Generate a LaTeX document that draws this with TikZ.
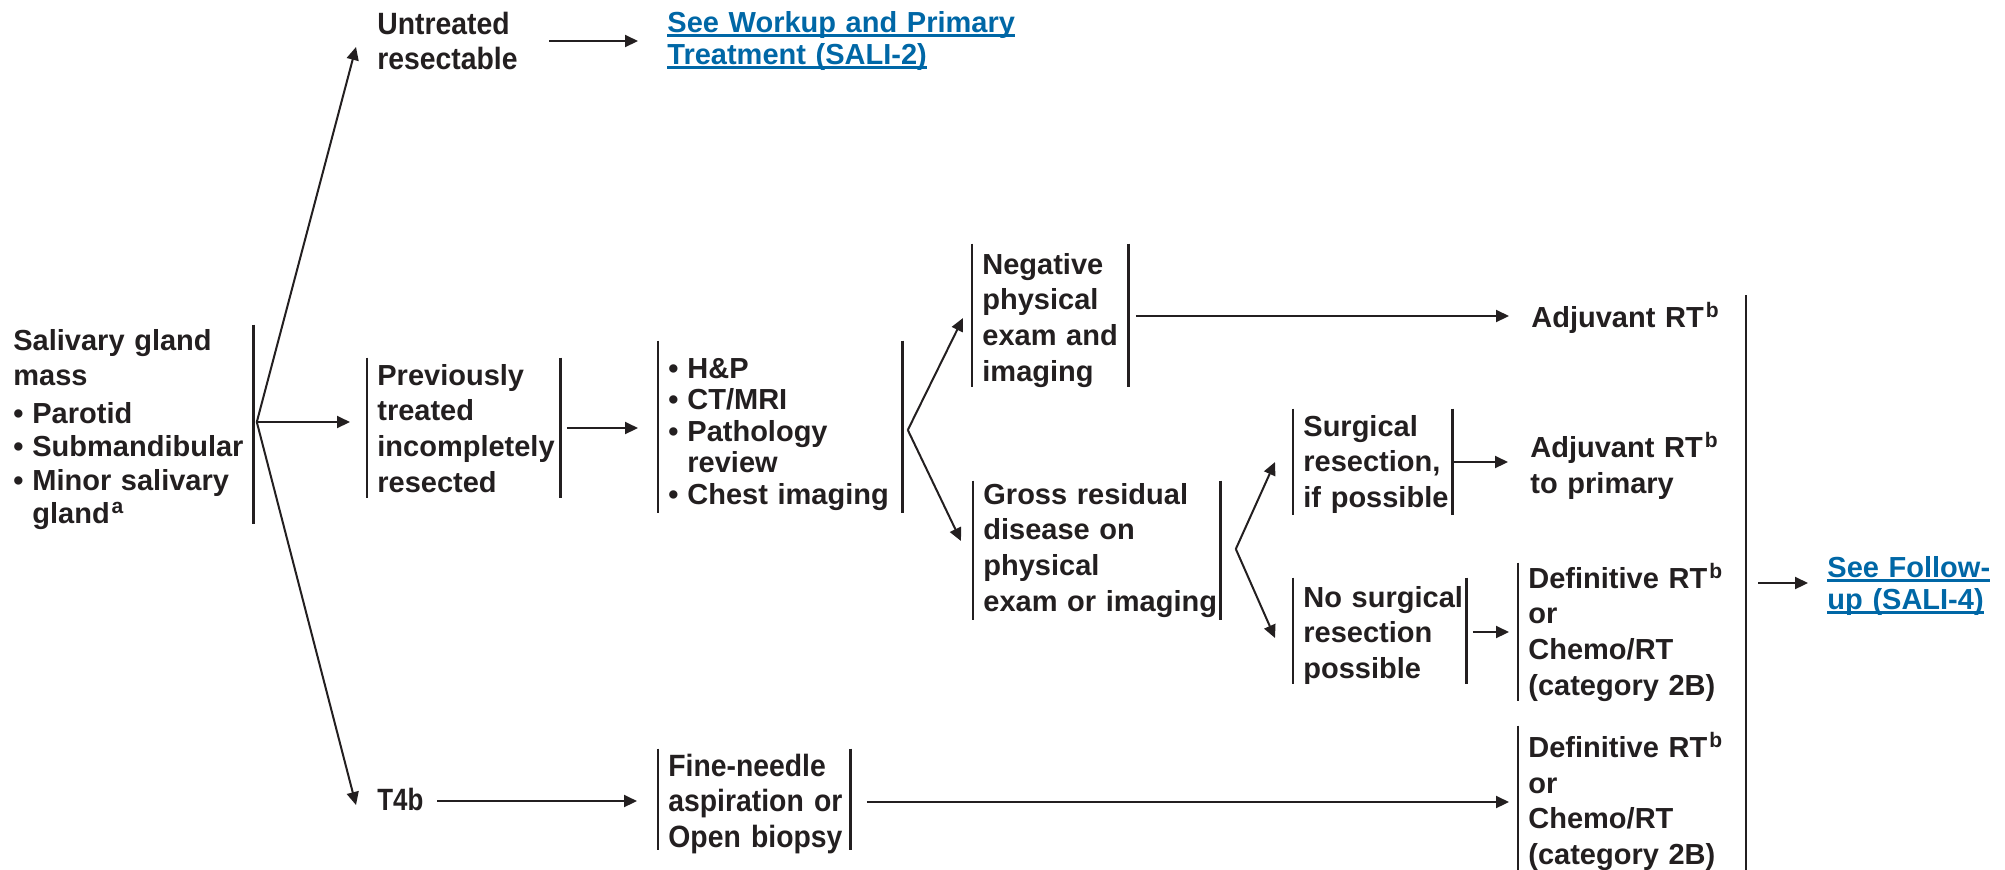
\documentclass[tikz,border=0pt]{standalone}
\usepackage{fontspec}
\setmainfont{Liberation Sans}
\newfontfamily\narrowfont{Liberation Sans}[FakeStretch=0.92]
\newfontfamily\tightfont{Liberation Sans}[FakeStretch=0.84]
\usetikzlibrary{arrows.meta,calc}

\definecolor{ink}{RGB}{35,31,32}
\definecolor{linkblue}{RGB}{0,103,166}

% underlined cross-reference text
\newsavebox{\lnkbox}
\newcommand{\lnk}[1]{\leavevmode\sbox{\lnkbox}{#1}\rlap{\rule[-2.4pt]{\wd\lnkbox}{1.3pt}}\usebox{\lnkbox}}

\newcommand{\bul}{\makebox[9.5pt][l]{•}}
\newcommand{\fn}[1]{\kern1pt\raisebox{4.8pt}{\fontsize{10.5pt}{10.5pt}\selectfont #1}}

\tikzset{
  ink text/.style={text=ink, inner sep=0pt, align=left},
  body/.style={ink text, font=\fontsize{14.5pt}{17.85pt}\selectfont\bfseries},
  narrow/.style={ink text, font=\narrowfont\fontsize{15.4pt}{17.85pt}\selectfont\bfseries},
  link/.style={inner sep=0pt, align=left, text=linkblue,
    font=\fontsize{14.5pt}{16pt}\selectfont\bfseries},
  barline/.style={draw=ink, line width=1.35pt},
  lbar/.style={append after command={([xshift=-5pt]\tikzlastnode.north west)
    edge[barline] ([xshift=-5pt]\tikzlastnode.south west)}},
  rbar/.style={append after command={(\tikzlastnode.north east)
    edge[barline] (\tikzlastnode.south east)}},
  % bracket box: first baseline at the node position, bars span above/below
  boxed/.style 2 args={anchor=base west, text height=#1, text depth=#2},
  arr/.style={draw=ink, line width=1pt, -{Triangle[length=6.5pt,width=6pt]}},
}

\begin{document}
\begin{tikzpicture}[x=0.5pt,y=-0.5pt]
\useasboundingbox (0,0) rectangle (2005,869);

% ---- starting point
\node[body, rbar, boxed={12.5pt}{87pt}, text width=120pt,
      font=\fontsize{14.5pt}{16.6pt}\selectfont\bfseries] (mass) at (13,350)
  {Salivary gland\\[1.25pt] mass\\[2.4pt] \bul Parotid\\ \bul Submandibular\\
   \bul Minor salivary\\ \hspace*{9.5pt}gland\fn{a}};

% ---- top branch
\node[narrow, anchor=base west, text width=80pt] (untr) at (377,34) {Untreated\\resectable};
\node[link, anchor=base west, text width=200pt] (linkA) at (667,32)
  {\lnk{See Workup and Primary}\\\lnk{Treatment (SALI-2)}};

% ---- middle branch
\node[body, lbar, rbar, boxed={13.5pt}{56.5pt}, text width=91.5pt] (prev) at (377,385)
  {Previously\\treated\\incompletely\\resected};
\node[body, lbar, rbar, boxed={18.5pt}{67.5pt}, text width=117pt,
      font=\fontsize{14.5pt}{15.75pt}\selectfont\bfseries] (work) at (668,378)
  {\bul H\&P\\ \bul CT/MRI\\ \bul Pathology\\ \hspace*{9.5pt}review\\ \bul Chest imaging};
\node[body, lbar, rbar, boxed={15pt}{56.5pt}, text width=73pt] (neg) at (982,274)
  {Negative\\physical\\exam and\\imaging};
\node[body, lbar, rbar, boxed={11.5pt}{58pt}, text width=118.5pt] (gross) at (983,504)
  {Gross residual\\disease on\\physical\\exam or imaging};
\node[body, lbar, rbar, boxed={13.5pt}{39.5pt}, text width=74.5pt] (surg) at (1303,436)
  {Surgical\\resection,\\if possible};
\node[body, lbar, rbar, boxed={14.5pt}{38.5pt}, text width=81.5pt] (nosurg) at (1303,607)
  {No surgical\\resection\\possible};

% ---- treatments
\node[body, anchor=base west, text width=110pt] (adj1) at (1531,327) {Adjuvant RT\fn{b}};
\node[body, anchor=base west, text width=110pt] (adj2) at (1530,457.5) {Adjuvant RT\fn{b}\\to primary};
\node[body, lbar, boxed={12.5pt}{56.5pt}, text width=105pt] (def1) at (1528,588)
  {Definitive RT\fn{b}\\or\\Chemo/RT\\(category 2B)};
\node[body, lbar, boxed={15.75pt}{59.25pt}, text width=105pt] (def2) at (1528,757.5)
  {Definitive RT\fn{b}\\or\\Chemo/RT\\(category 2B)};

% ---- bottom branch
\node[ink text, anchor=base west, text width=30pt,
      font=\tightfont\fontsize{15.4pt}{17.85pt}\selectfont\bfseries] (t4b) at (377,810) {T4b};
\node[narrow, lbar, rbar, boxed={13.5pt}{37pt}, text width=91pt] (fna) at (668,776)
  {Fine-needle\\aspiration or\\Open biopsy};

% ---- follow-up
\coordinate (bartop) at (1746,295);
\coordinate (barbot) at (1746,876);
\coordinate (fu) at (1746,583);
\draw[barline] (bartop) -- (barbot);
\node[link, anchor=base west, text width=85pt] (linkB) at (1827,577)
  {\lnk{See Follow-}\\\lnk{up (SALI-4)}};

% ---- branch points
\coordinate (mb) at ($(mass.east)+(3,-2.5)$);
\coordinate (wb) at ($(work.east)+(5,3)$);
\coordinate (gb) at ($(gross.east)+(15,-1.5)$);

% ---- connectors
\draw[arr] (mb) -- ($(untr.base west)+(-21,13)$);
\draw[arr] (mb) -- ($(mb -| prev.west)+(-27,0)$);
\draw[arr] (mb) -- ($(t4b.base west)+(-21,-5)$);
\draw[arr] ($(untr.base west)+(172,7)$) -- ($(linkA.base west)+(-29,9)$);
\draw[arr] ($(prev.east)+(6,0)$) -- ($(work.west)+(-30,1)$);
\draw[arr] (wb) -- ($(neg.west)+(-19,2.5)$);
\draw[arr] (wb) -- ($(gross.west)+(-22,-9.5)$);
\draw[arr] ($(neg.east)+(7,0.5)$) -- ($(adj1.base west)+(-22,-11)$);
\draw[arr] (gb) -- ($(surg.west)+(-28,0)$);
\draw[arr] (gb) -- ($(nosurg.west)+(-28,7)$);
\draw[arr] (surg.east) -- ($(adj2.base west)+(-22,4.5)$);
\draw[arr] ($(nosurg.east)+(6,1)$) -- ($(def1.west)+(-19,0)$);
\draw[arr] ($(t4b.base west)+(60,-9)$) -- ($(fna.west)+(-31,1.5)$);
\draw[arr] ($(fna.east)+(16,2.5)$) -- ($(def2.west)+(-19,1)$);
\draw[arr] ($(fu)+(12,0)$) -- ($(linkB.base west)+(-19,6)$);
\end{tikzpicture}
\end{document}
